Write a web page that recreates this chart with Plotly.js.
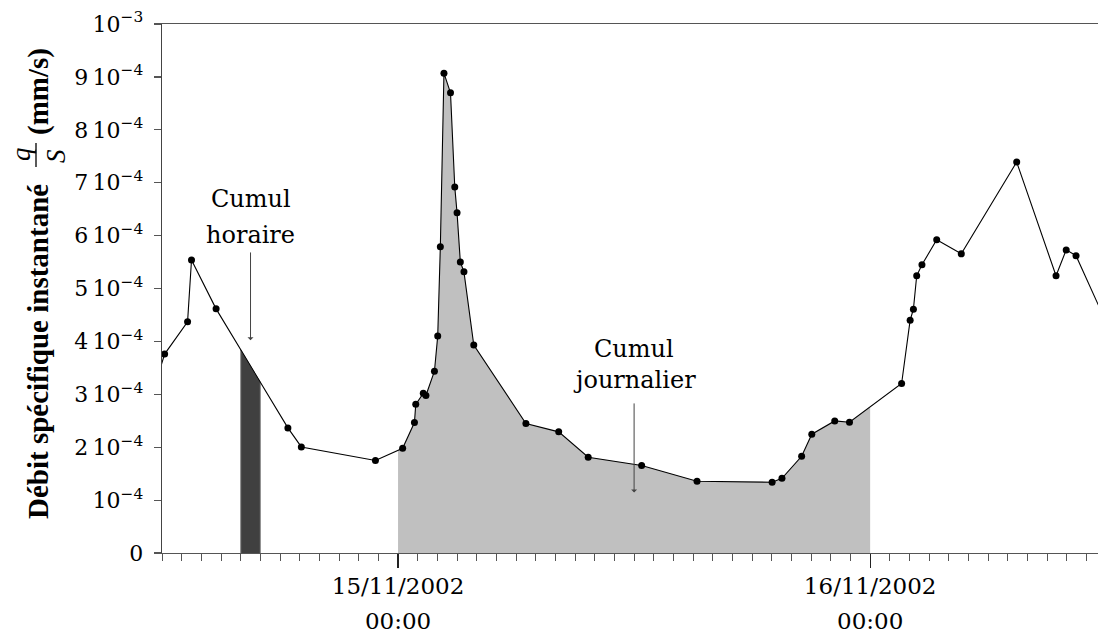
<!DOCTYPE html>
<html>
<head>
<meta charset="utf-8">
<script src="https://cdn.plot.ly/plotly-3.0.1.min.js"></script>
<style>html,body{margin:0;padding:0;background:#fff;}#chart{width:1098px;height:633px;}</style>
</head>
<body>
<div id="chart"></div>
<script>
// ---- data ----
const times = [
  '2002-11-14 11:38','2002-11-14 12:08','2002-11-14 13:18','2002-11-14 13:30','2002-11-14 14:45',
  '2002-11-14 18:24','2002-11-14 19:05','2002-11-14 22:51',
  '2002-11-15 00:14','2002-11-15 00:50','2002-11-15 00:54','2002-11-15 01:17','2002-11-15 01:25',
  '2002-11-15 01:51','2002-11-15 02:01','2002-11-15 02:09','2002-11-15 02:20','2002-11-15 02:40',
  '2002-11-15 02:53','2002-11-15 03:00','2002-11-15 03:10','2002-11-15 03:21','2002-11-15 03:51',
  '2002-11-15 06:30','2002-11-15 08:10','2002-11-15 09:40','2002-11-15 12:23','2002-11-15 15:12',
  '2002-11-15 19:01','2002-11-15 19:31','2002-11-15 20:31','2002-11-15 21:02','2002-11-15 22:12',
  '2002-11-15 22:57',
  '2002-11-16 01:36','2002-11-16 02:02','2002-11-16 02:12','2002-11-16 02:22','2002-11-16 02:38',
  '2002-11-16 03:23','2002-11-16 04:38','2002-11-16 07:27','2002-11-16 09:27','2002-11-16 09:58',
  '2002-11-16 10:28','2002-11-16 12:11'
];
const flux = [
  3.15e-4, 3.76e-4, 4.37e-4, 5.54e-4, 4.615e-4,
  2.365e-4, 2.005e-4, 1.748e-4,
  1.98e-4, 2.466e-4, 2.81e-4, 3.02e-4, 2.977e-4,
  3.437e-4, 4.10e-4, 5.79e-4, 9.07e-4, 8.70e-4,
  6.92e-4, 6.43e-4, 5.50e-4, 5.315e-4, 3.93e-4,
  2.447e-4, 2.29e-4, 1.81e-4, 1.653e-4, 1.356e-4,
  1.337e-4, 1.413e-4, 1.829e-4, 2.245e-4, 2.497e-4,
  2.472e-4,
  3.204e-4, 4.40e-4, 4.61e-4, 5.24e-4, 5.45e-4,
  5.92e-4, 5.655e-4, 7.39e-4, 5.24e-4, 5.73e-4,
  5.62e-4, 4.21e-4
];
const hourlyWindow = ['2002-11-14 16:00', '2002-11-14 17:00'];
const dailyWindow  = ['2002-11-15 00:00', '2002-11-16 00:00'];
const xRange = ['2002-11-14 12:00', '2002-11-16 11:35'];
const yTickVals = [0, 1e-4, 2e-4, 3e-4, 4e-4, 5e-4, 6e-4, 7e-4, 8e-4, 9e-4, 1e-3];
const yTickText = ['0', '10<sup>−4</sup>', '2\u200910<sup>−4</sup>', '3\u200910<sup>−4</sup>',
  '4\u200910<sup>−4</sup>', '5\u200910<sup>−4</sup>', '6\u200910<sup>−4</sup>', '7\u200910<sup>−4</sup>',
  '8\u200910<sup>−4</sup>', '9\u200910<sup>−4</sup>', '10<sup>−3</sup>'];
const labelHoraire = ['Cumul', 'horaire'];
const labelJournalier = ['Cumul', 'journalier'];

// ---- helpers ----
function toMs(s) {
  const m = s.match(/(\d+)-(\d+)-(\d+) (\d+):(\d+)/);
  return Date.UTC(+m[1], +m[2] - 1, +m[3], +m[4], +m[5]);
}
const tMs = times.map(toMs);
function interp(t) {
  for (let i = 0; i < tMs.length - 1; i++) {
    if (t >= tMs[i] && t <= tMs[i + 1]) {
      const f = (t - tMs[i]) / (tMs[i + 1] - tMs[i]);
      return flux[i] + f * (flux[i + 1] - flux[i]);
    }
  }
  return 0;
}
function areaPolygon(win) {
  const a = toMs(win[0]), b = toMs(win[1]);
  const xs = [a, a], ys = [0, interp(a)];
  for (let i = 0; i < tMs.length; i++) {
    if (tMs[i] > a && tMs[i] < b) { xs.push(tMs[i]); ys.push(flux[i]); }
  }
  xs.push(b, b); ys.push(interp(b), 0);
  return {x: xs, y: ys};
}
const daily = areaPolygon(dailyWindow);
const hourly = areaPolygon(hourlyWindow);

const serif = 'DejaVu Serif';
const traces = [
  {x: daily.x, y: daily.y, type: 'scatter', mode: 'lines', fill: 'toself', fillcolor: '#c0c0c0',
   line: {width: 0, color: '#c0c0c0'}, hoverinfo: 'skip', showlegend: false},
  {x: hourly.x, y: hourly.y, type: 'scatter', mode: 'lines', fill: 'toself', fillcolor: '#404040',
   line: {width: 1, color: '#8c8c8c'}, hoverinfo: 'skip', showlegend: false},
  {x: times, y: flux, type: 'scatter', mode: 'lines+markers',
   line: {color: '#000', width: 1.1}, marker: {color: '#000', size: 7}, showlegend: false},
  {x: xRange, y: [null, null], xaxis: 'x2', type: 'scatter', mode: 'lines', hoverinfo: 'skip', showlegend: false}
];

const H = 529, T = 24, L = 162, W = 936;
const py = p => (T + H - p) / H;   // pixel row -> paper y
const mid = (p) => p - L;          // pixel col -> xshift from left edge

function arrowAnn(x, y0, y1) {
  return {x: x, y: y1, ax: x, ay: y0, xref: 'x', yref: 'y', axref: 'x', ayref: 'y', text: '',
    showarrow: true, arrowhead: 1, arrowsize: 1, arrowwidth: 1, arrowcolor: '#444'};
}
function textAnn(x, y, t) {
  return {x: x, y: y, xref: 'x', yref: 'y', text: t, showarrow: false,
    font: {family: serif, size: 24, color: '#000'}, xanchor: 'center', yanchor: 'middle'};
}

const annotations = [
  textAnn('2002-11-14 16:30', 6.70e-4, labelHoraire[0]),
  textAnn('2002-11-14 16:30', 6.02e-4, labelHoraire[1]),
  arrowAnn('2002-11-14 16:30', 5.71e-4, 4.02e-4),
  textAnn('2002-11-15 12:00', 3.86e-4, labelJournalier[0]),
  textAnn('2002-11-15 12:00', 3.27e-4, labelJournalier[1]),
  arrowAnn('2002-11-15 12:00', 2.856e-4, 1.142e-4),
  {xref: 'paper', yref: 'paper', x: 0, xshift: mid(38), y: py(352), text: '<b>Débit spécifique instantané</b>',
   textangle: -90, showarrow: false, xanchor: 'center', yanchor: 'middle',
   font: {family: 'Liberation Serif', size: 29, color: '#000'}},
  {xref: 'paper', yref: 'paper', x: 0, xshift: mid(21), y: py(154), text: '<i>q</i>',
   textangle: -90, showarrow: false, xanchor: 'center', yanchor: 'middle',
   font: {family: 'Liberation Serif', size: 27, color: '#000'}},
  {xref: 'paper', yref: 'paper', x: 0, xshift: mid(56), y: py(156), text: '<i>S</i>',
   textangle: -90, showarrow: false, xanchor: 'center', yanchor: 'middle',
   font: {family: 'Liberation Serif', size: 27, color: '#000'}},
  {xref: 'paper', yref: 'paper', x: 0, xshift: mid(38), y: py(92), text: '<b>(mm/s)</b>',
   textangle: -90, showarrow: false, xanchor: 'center', yanchor: 'middle',
   font: {family: 'Liberation Serif', size: 29, color: '#000'}}
];

const layout = {
  width: 1098, height: 633,
  margin: {l: L, r: 0, t: T, b: 633 - T - H, pad: 0},
  paper_bgcolor: '#fff', plot_bgcolor: '#fff',
  showlegend: false,
  xaxis: {
    type: 'date', range: xRange, showgrid: false, zeroline: false,
    showline: true, mirror: true, linecolor: '#555', linewidth: 1.3,
    ticks: 'outside', ticklen: 14, tickwidth: 1.3, tickcolor: '#222',
    tick0: '2002-11-15 00:00', dtick: 86400000, tickformat: '%d/%m/%Y',
    ticklabelstandoff: -2,
    tickfont: {family: serif, size: 23, color: '#000'},
    minor: {dtick: 3600000, tick0: '2002-11-15 00:00', ticks: 'outside', ticklen: 7, tickwidth: 1, tickcolor: '#555', showgrid: false}
  },
  xaxis2: {
    type: 'date', overlaying: 'x', anchor: 'y', side: 'bottom', matches: 'x', range: xRange,
    showgrid: false, zeroline: false, showline: false, ticks: '',
    tick0: '2002-11-15 00:00', dtick: 86400000, tickformat: '%H:%M',
    ticklabelstandoff: 52,
    tickfont: {family: serif, size: 23, color: '#000'}
  },
  yaxis: {
    range: [0, 1e-3], showgrid: false, zeroline: false,
    showline: true, linecolor: '#444', linewidth: 1.3,
    ticks: 'outside', ticklen: 7, tickwidth: 1.2, tickcolor: '#555',
    tickvals: yTickVals, ticktext: yTickText,
    ticklabelstandoff: 6,
    tickfont: {family: serif, size: 22, color: '#000'}
  },
  annotations: annotations,
  shapes: [
    {type: 'line', xref: 'paper', yref: 'paper', x0: (36 - L) / W, x1: (36 - L) / W, y0: py(167), y1: py(143),
     line: {color: '#000', width: 1.3}}
  ]
};

Plotly.newPlot('chart', traces, layout, {displayModeBar: false, staticPlot: true});
</script>
</body>
</html>
